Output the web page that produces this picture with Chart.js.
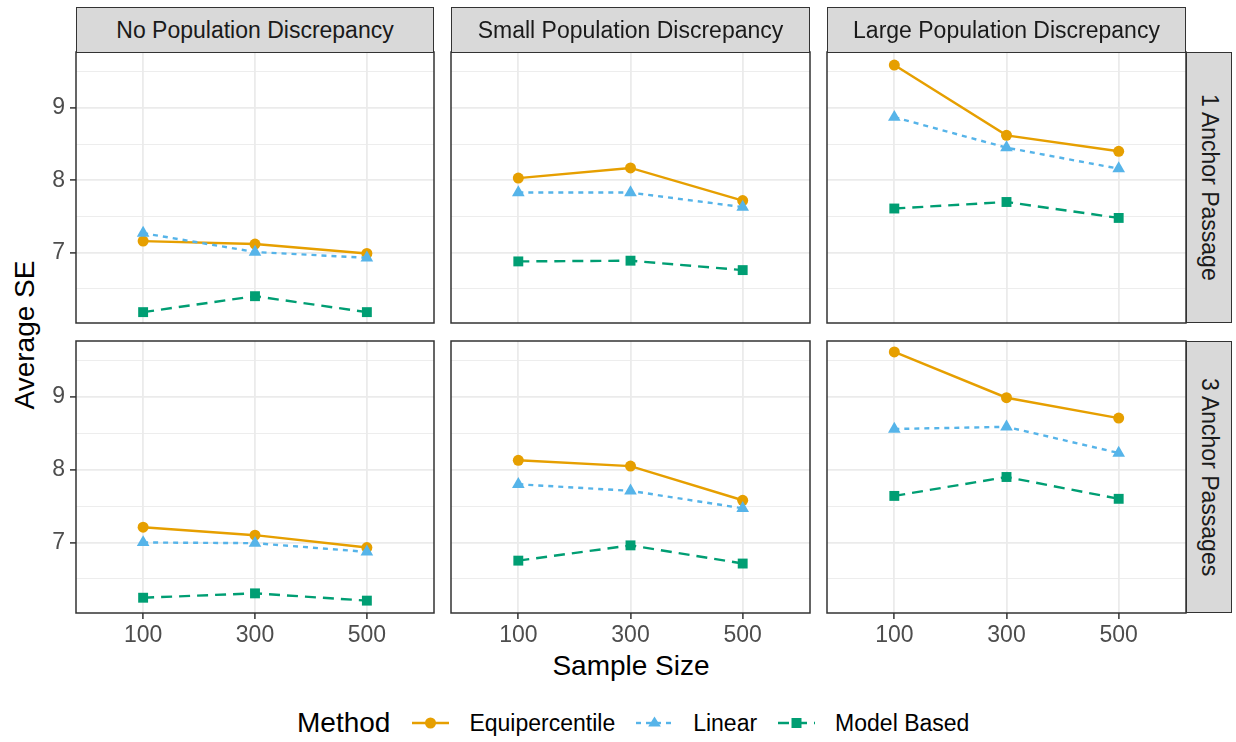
<!DOCTYPE html>
<html>
<head>
<meta charset="utf-8">
<script src="https://cdn.jsdelivr.net/npm/chart.js@4.4.1/dist/chart.umd.min.js"></script>
<style>
  body { margin: 0; background: #fff; font-family: "Liberation Sans", Arial, sans-serif; }
  #wrap { position: relative; width: 1236px; height: 742px; overflow: hidden; }
  canvas.panel { position: absolute; left: 0; top: 0; }
  .strip { position: absolute; background: #D9D9D9; border: 1px solid #333; box-sizing: border-box;
           color: #1A1A1A; font-size: 23px; display: flex; align-items: center; justify-content: center; white-space: nowrap; }
  .strip.side span { writing-mode: vertical-rl; }
  .title { position: absolute; color: #000; font-size: 28px; white-space: nowrap; }
  #legend { position: absolute; left: 297px; top: 704px; height: 38px; display: flex; align-items: center; }
  #legend .lt { font-size: 28px; margin-right: 22px; }
  #legend canvas { margin-right: 20px; }
  #legend .lab { font-size: 23px; margin-right: 21px; }
</style>
</head>
<body>
<div id="wrap">
  <div class="title" style="left:25px; top:335px; transform: translate(-50%, -50%) rotate(-90deg);">Average SE</div>
  <div class="title" style="left:631px; top:666px; transform: translate(-50%, -50%);">Sample Size</div>
  <div id="legend"><span class="lt">Method</span></div>
</div>
<script>
const sampleSizes = ['100', '300', '500'];
const discrepancies = ['No Population Discrepancy', 'Small Population Discrepancy', 'Large Population Discrepancy'];
const anchors = ['1 Anchor Passage', '3 Anchor Passages'];
const methods = ['Equipercentile', 'Linear', 'Model Based'];
const yMajor = [7, 8, 9];
const yMinor = [6.5, 7.5, 8.5, 9.5];

// 1 anchor passage: one row per discrepancy (No, Small, Large), values for n = 100, 300, 500
const equiOne   = [[7.16, 7.12, 6.99], [8.03, 8.17, 7.72], [9.59, 8.62, 8.40]];
const linearOne = [[7.27, 7.01, 6.93], [7.83, 7.83, 7.63], [8.87, 8.45, 8.16]];
const modelOne  = [[6.18, 6.40, 6.18], [6.88, 6.89, 6.76], [7.61, 7.70, 7.48]];

// 3 anchor passages
const equiThree   = [[7.21, 7.10, 6.93], [8.13, 8.05, 7.58], [9.62, 8.99, 8.71]];
const linearThree = [[7.00, 6.99, 6.87], [7.80, 7.71, 7.47], [8.56, 8.59, 8.23]];
const modelThree  = [[6.24, 6.30, 6.20], [6.75, 6.96, 6.71], [7.64, 7.90, 7.60]];

const byAnchor = [[equiOne, linearOne, modelOne], [equiThree, linearThree, modelThree]];

const colors = ['#E69F00', '#56B4E9', '#009E73'];
const dashes = [[], [5, 5], [11, 7]];
const shapes = ['circle', 'triangle', 'rect'];
const radii = [5.5, 7.3, 7];

const W = 1236, H = 742;
const colX = [[76, 434], [451, 810], [827, 1186]];
const rowY = [[52, 323], [341, 613]];
const wrap = document.getElementById('wrap');

const panelBorder = {
  id: 'panelBorder',
  afterDraw(chart) {
    const a = chart.chartArea, ctx = chart.ctx;
    ctx.save();
    ctx.strokeStyle = '#333333';
    ctx.lineWidth = 1.5;
    ctx.strokeRect(a.left, a.top, a.right - a.left, a.bottom - a.top);
    ctx.restore();
  }
};

function makePanel(row, col) {
  const [L, R] = colX[col];
  const [T, B] = rowY[row];
  const yW = col === 0 ? 40 : 0;
  const xH = row === 1 ? 45 : 0;
  const canvas = document.createElement('canvas');
  canvas.width = W; canvas.height = H; canvas.className = 'panel';
  wrap.appendChild(canvas);

  new Chart(canvas, {
    type: 'line',
    data: {
      datasets: methods.map((m, k) => ({
        label: m,
        data: byAnchor[row][k][col].map((v, i) => ({ x: i + 1, y: v })),
        borderColor: colors[k],
        backgroundColor: colors[k],
        borderWidth: 2.4,
        borderDash: dashes[k],
        tension: 0,
        pointStyle: shapes[k],
        pointRadius: radii[k],
        pointBorderWidth: 0,
        pointBackgroundColor: colors[k]
      })).reverse()
    },
    options: {
      responsive: false,
      animation: false,
      layout: { padding: { left: L - yW, right: W - R, top: T, bottom: H - B - xH } },
      plugins: { legend: { display: false }, tooltip: { enabled: false } },
      scales: {
        x: {
          type: 'linear', min: 0.4, max: 3.6,
          afterBuildTicks: s => { s.ticks = sampleSizes.map((_, i) => ({ value: i + 1 })); },
          afterFit: s => { s.height = xH; },
          ticks: {
            display: row === 1, autoSkip: false, maxRotation: 0, padding: 3,
            color: '#4D4D4D', font: { family: '"Liberation Sans", Arial, sans-serif', size: 23 },
            callback: v => sampleSizes[v - 1]
          },
          grid: { color: '#EBEBEB', lineWidth: 1.8, drawTicks: row === 1, tickLength: 6, tickColor: '#333333', tickWidth: 1.5 },
          border: { display: false }
        },
        y: {
          min: 6.03, max: 9.77,
          afterBuildTicks: s => { s.ticks = yMinor.concat(yMajor).sort((a, b) => a - b).map(v => ({ value: v })); },
          afterFit: s => { s.width = yW; },
          ticks: {
            display: col === 0, padding: 5,
            color: '#4D4D4D', font: { family: '"Liberation Sans", Arial, sans-serif', size: 23 },
            callback: v => yMajor.includes(v) ? String(v) : ''
          },
          grid: {
            color: '#EBEBEB',
            lineWidth: c => yMajor.includes(c.tick.value) ? 1.8 : 0.9,
            drawTicks: col === 0, tickLength: 6,
            tickColor: c => yMajor.includes(c.tick.value) ? '#333333' : 'rgba(0,0,0,0)',
            tickWidth: 1.5
          },
          border: { display: false }
        }
      }
    },
    plugins: [panelBorder]
  });
}

for (let r = 0; r < 2; r++) for (let c = 0; c < 3; c++) makePanel(r, c);

// strips
discrepancies.forEach((d, c) => {
  const el = document.createElement('div');
  el.className = 'strip';
  el.style.left = colX[c][0] + 'px';
  el.style.top = '7px';
  el.style.width = (colX[c][1] - colX[c][0]) + 'px';
  el.style.height = '46px';
  el.textContent = d;
  wrap.appendChild(el);
});
anchors.forEach((a, r) => {
  const el = document.createElement('div');
  el.className = 'strip side';
  el.style.left = '1186px';
  el.style.top = rowY[r][0] + 'px';
  el.style.width = '46px';
  el.style.height = (rowY[r][1] - rowY[r][0]) + 'px';
  const s = document.createElement('span');
  s.textContent = a;
  el.appendChild(s);
  wrap.appendChild(el);
});

// legend keys
const legend = document.getElementById('legend');
methods.forEach((m, k) => {
  const key = document.createElement('canvas');
  key.width = 37; key.height = 24;
  const ctx = key.getContext('2d');
  ctx.strokeStyle = colors[k]; ctx.fillStyle = colors[k];
  ctx.lineWidth = 2.4;
  ctx.setLineDash(dashes[k]);
  ctx.beginPath(); ctx.moveTo(0, 12); ctx.lineTo(37, 12); ctx.stroke();
  ctx.setLineDash([]);
  ctx.beginPath();
  if (k === 0) { ctx.arc(18.5, 12, 5.5, 0, Math.PI * 2); }
  else if (k === 1) { ctx.moveTo(18.5, 5.5); ctx.lineTo(24.8, 15.6); ctx.lineTo(12.2, 15.6); ctx.closePath(); }
  else { ctx.rect(13.5, 7, 10, 10); }
  ctx.fill();
  legend.appendChild(key);
  const lab = document.createElement('span');
  lab.className = 'lab';
  lab.textContent = m;
  legend.appendChild(lab);
});
</script>
</body>
</html>
